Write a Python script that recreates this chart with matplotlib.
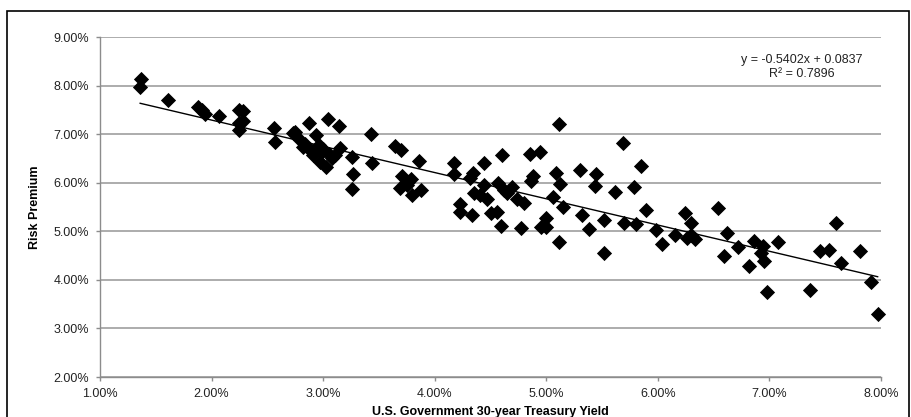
import numpy as np
import matplotlib.pyplot as plt
from matplotlib.patches import Rectangle
from matplotlib.ticker import FuncFormatter

plt.rcParams['font.family'] = ['Liberation Sans', 'DejaVu Sans']

# treasury yield (%) and risk premium (%)
yield_pct = [
    1.37, 1.36, 1.61, 1.88, 1.91, 1.94, 2.07, 2.25, 2.28, 2.28, 2.25, 2.25,
    2.56, 2.57, 2.73, 2.75, 2.87, 3.04, 3.14, 2.79, 2.82, 2.94, 2.88, 2.96,
    2.91, 2.99, 2.97, 3.03, 3.08, 3.15, 3.11, 3.05, 2.84, 3.00,
    3.26, 3.27, 3.26, 3.43, 3.44, 3.64, 3.70, 3.71, 3.69, 3.76, 3.79, 3.80,
    3.88, 3.86, 3.75,
    4.17, 4.17, 4.44, 4.34, 4.32, 4.44, 4.35, 4.41, 4.47, 4.23, 4.23, 4.33,
    4.50, 4.56, 4.59, 4.60, 4.57, 4.62, 4.65, 4.69, 4.74, 4.80, 4.77, 4.85,
    4.94, 4.88, 4.86, 4.95, 5.00, 5.00, 5.06, 5.09, 5.11, 5.12, 5.15, 5.11,
    5.30, 5.32, 5.38, 5.45, 5.44, 5.52, 5.52, 5.62, 5.69, 5.70, 5.79, 5.80,
    5.85, 5.89, 5.98, 6.04, 6.15, 6.24, 6.30, 6.26, 6.30, 6.33, 6.54, 6.62,
    6.59, 6.72, 6.82, 6.86, 6.94, 6.92, 6.95, 6.98, 7.08, 7.36, 7.45, 7.53,
    7.60, 7.64, 7.81, 7.91, 7.97,
]
premium_pct = [
    8.14, 7.97, 7.70, 7.56, 7.49, 7.42, 7.38, 7.49, 7.47, 7.27, 7.22, 7.09,
    7.12, 6.83, 7.03, 7.05, 7.22, 7.31, 7.17, 6.88, 6.74, 6.99, 6.67, 6.77,
    6.57, 6.64, 6.43, 6.33, 6.50, 6.71, 6.57, 6.60, 6.80, 6.70,
    6.52, 6.18, 5.88, 7.01, 6.40, 6.75, 6.67, 6.14, 5.90, 6.02, 6.07, 5.75,
    5.85, 6.45, 5.95,
    6.41, 6.18, 6.40, 6.21, 6.09, 5.95, 5.78, 5.74, 5.66, 5.57, 5.40, 5.34,
    5.37, 5.40, 5.10, 6.57, 5.99, 5.85, 5.78, 5.92, 5.66, 5.59, 5.06, 6.59,
    6.64, 6.14, 6.04, 5.08, 5.08, 5.28, 5.70, 6.19, 7.20, 5.97, 5.49, 4.78,
    6.27, 5.33, 5.04, 6.18, 5.94, 5.24, 4.55, 5.80, 6.81, 5.18, 5.91, 5.15,
    6.35, 5.44, 5.03, 4.73, 4.93, 5.37, 5.18, 4.86, 4.93, 4.84, 5.47, 4.97,
    4.50, 4.67, 4.28, 4.79, 4.70, 4.55, 4.38, 3.74, 4.77, 3.80, 4.60, 4.62,
    5.18, 4.35, 4.59, 3.95, 3.30,
]

# linear trendline as printed on the chart
slope = -0.5402
intercept = 0.0837
r_squared = 0.7896

x = np.array(yield_pct) / 100
y = np.array(premium_pct) / 100

fig = plt.figure(figsize=(9.11, 4.17), dpi=100)
ax = fig.add_axes([100 / 911, 40 / 417, 781 / 911, 340 / 417])

ax.scatter(x, y, marker='D', s=60, color='black', zorder=3, linewidths=0,
           clip_on=False)

xl = np.array([x.min(), x.max()])
ax.plot(xl, slope * xl + intercept, color='black', lw=1.0, zorder=4)

ax.set_xlim(0.01, 0.08)
ax.set_ylim(0.02, 0.09)
ax.set_xticks(np.arange(0.01, 0.0801, 0.01))
ax.set_yticks(np.arange(0.02, 0.0901, 0.01))
pct = FuncFormatter(lambda v, p: f"{v * 100:.2f}%")
ax.xaxis.set_major_formatter(pct)
ax.yaxis.set_major_formatter(pct)

ax.grid(axis='y', color='#a6a6a6', lw=1.3)
ax.set_axisbelow(True)
for s in ['top', 'right']:
    ax.spines[s].set_visible(False)
for s in ['left', 'bottom']:
    ax.spines[s].set_color('#8c8c8c')
    ax.spines[s].set_linewidth(1.0)
ax.tick_params(direction='out', length=3, width=1, color='#8c8c8c',
               labelsize=9, labelcolor='#222222', pad=5)

ax.set_xlabel("U.S. Government 30-year Treasury Yield", fontsize=9,
              fontweight='bold', labelpad=4)
ax.set_ylabel("Risk Premium", fontsize=9, fontweight='bold', labelpad=9)

ax.text(802 / 911, 1 - 67 / 417,
        f"y = {slope}x + {intercept}\nR² = {r_squared}",
        transform=fig.transFigure, ha='center', va='center', fontsize=9,
        linespacing=1.2, color='#222222')

# outer chart border
fig.patches.append(Rectangle((7 / 911, -0.05), 902 / 911, 1.05 - 11 / 417,
                             transform=fig.transFigure, fill=False,
                             edgecolor='black', lw=1.2, clip_on=False))

fig.savefig("out.png", dpi=100)
